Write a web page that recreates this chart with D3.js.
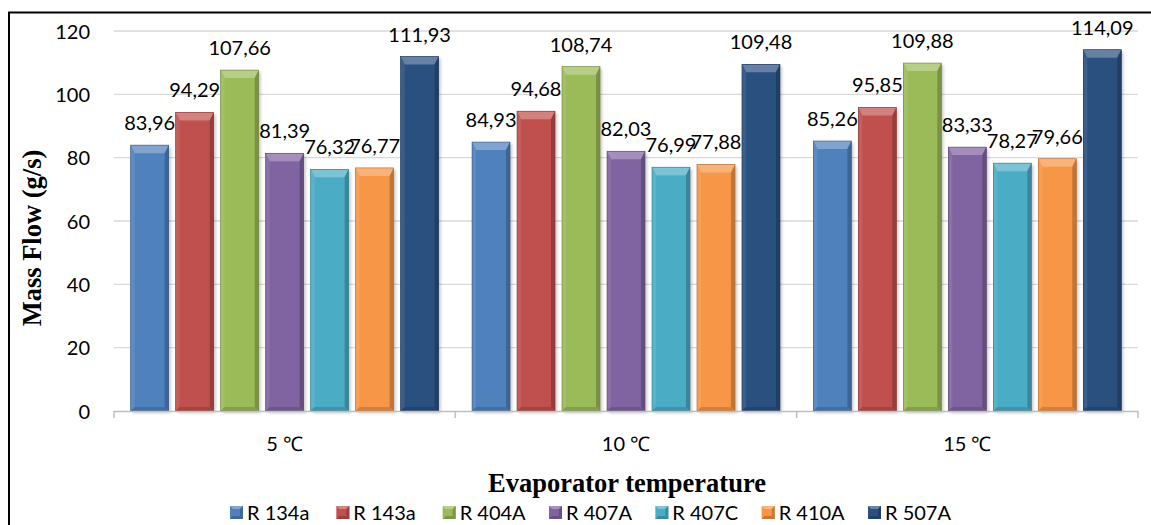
<!DOCTYPE html>
<html><head><meta charset="utf-8">
<script src="https://cdn.jsdelivr.net/npm/d3@7"></script>
<style>body{margin:0;background:#fff}svg{display:block}</style>
</head><body>
<svg id="c" width="1151" height="525"></svg>
<script>
const categories = ["5 \u2103", "10 \u2103", "15 \u2103"];
const seriesNames = ["R 134a", "R 143a", "R 404A", "R 407A", "R 407C", "R 410A", "R 507A"];
const r134a = [83.96, 84.93, 85.26];
const r143a = [94.29, 94.68, 95.85];
const r404a = [107.66, 108.74, 109.88];
const r407a = [81.39, 82.03, 83.33];
const r407c = [76.32, 76.99, 78.27];
const r410a = [76.77, 77.88, 79.66];
const r507a = [111.93, 109.48, 114.09];
const seriesValues = [r134a, r143a, r404a, r407a, r407c, r410a, r507a];
const yTicks = [0, 20, 40, 60, 80, 100, 120];
const colors = ["#4F81BD", "#C0504D", "#9BBB59", "#8064A2", "#4BACC6", "#F79646", "#2A5080"];

(function(){
const svg = d3.select("#c");
const pL = 114, pR = 1138, pT = 31, pB = 411;
const font = "Lato, 'Open Sans', sans-serif";
const serif = "'Liberation Serif', 'Times New Roman', serif";

svg.append("path").attr("d", `M9,525 V12.5 H1151`).attr("fill","none").attr("stroke","#000").attr("stroke-width",2);

const defs = svg.append("defs");
const f = defs.append("filter").attr("id","sh").attr("x","-20%").attr("y","-20%").attr("width","150%").attr("height","150%");
f.append("feGaussianBlur").attr("stdDeviation",1.6);

const y = d3.scaleLinear().domain([0,120]).range([pB, pT]);
const x0 = d3.scaleBand().domain(categories).range([pL, pR]).padding(0);
const x1 = d3.scaleBand().domain(seriesNames).range([16.7, x0.bandwidth()-16.7]).paddingInner(7/45).paddingOuter(0);

svg.append("g").selectAll("line").data(yTicks.filter(d=>d>0)).join("line")
  .attr("x1", pL).attr("x2", pR).attr("y1", d=>y(d)).attr("y2", d=>y(d))
  .attr("stroke","#D9D9D9").attr("stroke-width",1.3);

const ya = d3.axisLeft(y).tickValues(yTicks).tickSize(0).tickPadding(0);
const yg = svg.append("g").attr("transform", `translate(90,0)`).call(ya);
yg.select(".domain").remove();
yg.selectAll("text").attr("font-family", font).attr("font-size", 20).attr("fill","#000").attr("dy","0.35em");

function shade(c, k){ return k>0 ? d3.interpolateRgb(c,"#fff")(k) : d3.interpolateRgb(c,"#000")(-k); }

function drawBar(g, bx, by, w, h, c){
  g.append("rect").attr("x", bx+2).attr("y", by+2).attr("width", w).attr("height", h)
    .attr("fill","#000").attr("opacity",0.22).attr("filter","url(#sh)");
  g.append("rect").attr("x", bx).attr("y", by).attr("width", w).attr("height", h).attr("fill", c);
  const bt = Math.min(8, h/2), bs = 4;
  g.append("path").attr("d", `M${bx},${by} H${bx+w} L${bx+w-bs},${by+bt} H${bx+bs} Z`).attr("fill", shade(c,0.28));
  g.append("path").attr("d", `M${bx},${by} L${bx+bs},${by+bt} V${by+h-bs} L${bx},${by+h} Z`).attr("fill", shade(c,0.08));
  g.append("path").attr("d", `M${bx+w},${by} L${bx+w-bs},${by+bt} V${by+h-bs} L${bx+w},${by+h} Z`).attr("fill", shade(c,-0.22));
  g.append("path").attr("d", `M${bx},${by+h} L${bx+bs},${by+h-bs} H${bx+w-bs} L${bx+w},${by+h} Z`).attr("fill", shade(c,-0.15));
  g.append("rect").attr("x", bx).attr("y", by).attr("width", w).attr("height", h).attr("fill","none")
    .attr("stroke", shade(c,-0.3)).attr("stroke-width",0.6);
}

const bars = svg.append("g");
categories.forEach((cat, ci) => {
  seriesNames.forEach((s, si) => {
    const v = seriesValues[si][ci];
    const bx = x0(cat) + x1(s), w = x1.bandwidth();
    drawBar(bars, bx, y(v), w, pB - y(v), colors[si]);
  });
});

svg.append("line").attr("x1", pL).attr("x2", pR).attr("y1", pB+0.5).attr("y2", pB+0.5)
  .attr("stroke","#BFBFBF").attr("stroke-width",1.5);
const bounds = [pL, ...categories.map(c=>x0(c)+x0.bandwidth())];
svg.append("g").selectAll("line").data(bounds).join("line")
  .attr("x1", d=>d).attr("x2", d=>d).attr("y1", pB).attr("y2", pB+7)
  .attr("stroke","#BFBFBF").attr("stroke-width",1.5);

const lab = svg.append("g").attr("font-family", font).attr("font-size", 20).attr("text-anchor","middle");
categories.forEach((cat, ci) => {
  seriesNames.forEach((s, si) => {
    const v = seriesValues[si][ci];
    lab.append("text").attr("x", x0(cat) + x1(s) + x1.bandwidth()/2).attr("y", y(v) - 15)
      .text(v.toFixed(2).replace(".", ","));
  });
});

svg.append("g").selectAll("text").data(categories).join("text")
  .attr("x", d=>x0(d)+x0.bandwidth()/2).attr("y", 451).attr("text-anchor","middle")
  .attr("font-family", font).attr("font-size", 20).text(d=>d);

svg.append("text").attr("x", 627).attr("y", 492).attr("text-anchor","middle")
  .attr("font-family", serif).attr("font-weight","bold").attr("font-size",26.5)
  .text("Evaporator temperature");
svg.append("text").attr("transform","translate(41,238) rotate(-90)").attr("text-anchor","middle")
  .attr("font-family", serif).attr("font-weight","bold").attr("font-size",26.5)
  .text("Mass Flow (g/s)");

const legX = d3.scalePoint().domain(seriesNames).range([230, 868]);
const lg = svg.append("g").selectAll("g").data(seriesNames).join("g")
  .attr("transform", d=>`translate(${legX(d)},506)`);
lg.each(function(d,i){
  const g = d3.select(this);
  const c = colors[i], s = 13, b = 3;
  g.append("rect").attr("width", s).attr("height", s).attr("fill", c);
  g.append("path").attr("d", `M0,0 H${s} L${s-b},${b} H${b} Z`).attr("fill", shade(c,0.3));
  g.append("path").attr("d", `M${s},0 L${s-b},${b} V${s-b} L${s},${s} Z`).attr("fill", shade(c,-0.2));
  g.append("path").attr("d", `M0,${s} L${b},${s-b} H${s-b} L${s},${s} Z`).attr("fill", shade(c,-0.2));
});
lg.append("text").attr("x", 17).attr("y", 14).attr("font-family", font).attr("font-size", 20).text(d=>d);
})();
</script>
</body></html>
